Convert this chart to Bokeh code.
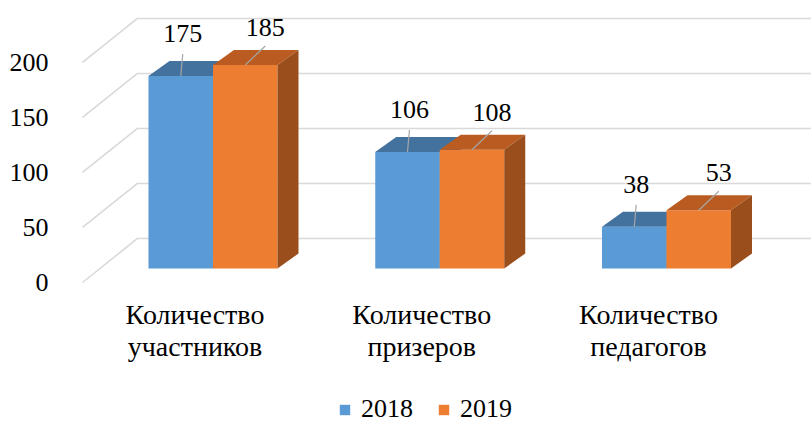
from bokeh.plotting import figure
from bokeh.models import Range1d, FixedTicker, Legend, LegendItem, ColumnDataSource
from bokeh.core.properties import value
from bokeh.embed import file_html
from bokeh.resources import INLINE

# ---------------- data ----------------
categories = ["Количество участников", "Количество призеров", "Количество педагогов"]
series_names = ["2018", "2019"]
values_2018 = [175, 106, 38]
values_2019 = [185, 108, 53]
y_ticks = [0, 50, 100, 150, 200]

# ---------------- style / geometry ----------------
W, H = 811, 423
FONT = "Liberation Serif"
FS_NUM = "26px"
FS_CAT = "28px"
PX_PER_X = 226.75   # pixels per category step
PX_PER_Y = 1.1      # pixels per value unit
X_START, X_END = -0.5843, 2.6395
Y_START, Y_END = -128.18, 256.36


def px_x(px):
    return px / PX_PER_X


def px_y(px):
    return px / PX_PER_Y


BAR_W = px_x(64.5)
DEPTH_X, DEPTH_Y = px_x(21), px_y(15)
BAR_BASE = px_y(14)
WALL_X0 = px_x(-75.5)
SIDE_X0 = px_x(-130.5)
WALL_DY = px_y(44)
CAT_DX = px_x(-18)
CAT_Y1, CAT_Y2 = px_y(-32), px_y(-64)
GRID_COLOR = "#D9D9D9"
COLORS = {
    "2018": {"front": "#5B9BD5", "top": "#43729F", "side": "#3E6A94", "lab_dx": 2, "lab_dy": 42, "lead_dy": 22, "side_sign": -1},
    "2019": {"front": "#ED7D31", "top": "#BA5C21", "side": "#9A4E1C", "lab_dx": 20, "lab_dy": 37.5, "lead_dy": 19, "side_sign": 1},
}

p = figure(width=W, height=H, output_backend="svg", toolbar_location=None,
           x_axis_type=None, x_range=Range1d(X_START, X_END),
           y_range=Range1d(Y_START, Y_END),
           min_border_left=80, min_border_right=0, min_border_top=0, min_border_bottom=0)
p.outline_line_color = None
p.ygrid.visible = False
p.background_fill_color = "white"

# y axis
ax = p.yaxis[0]
ax.ticker = FixedTicker(ticks=y_ticks)
ax.axis_line_color = None
ax.major_tick_line_color = None
ax.minor_tick_line_color = None
ax.major_label_text_font = FONT
ax.major_label_text_font_size = FS_NUM
ax.major_label_text_color = "black"
ax.major_label_standoff = 26

# walls: side-wall diagonals + back-wall gridlines
gx = [[SIDE_X0, WALL_X0, X_END] for v in y_ticks]
gy = [[v, v + WALL_DY, v + WALL_DY] for v in y_ticks]
p.multi_line(gx, gy, line_color=GRID_COLOR, line_width=1.6)

# bars
legend_items = []
for name, vals in zip(series_names, [values_2018, values_2019]):
    st = COLORS[name]
    centers = list(range(len(categories)))
    if st["side_sign"] < 0:
        x0 = [c - BAR_W for c in centers]
        x1 = [c for c in centers]
    else:
        x0 = [c for c in centers]
        x1 = [c + BAR_W for c in centers]
    bottom = [BAR_BASE for _ in vals]
    top = [BAR_BASE + v for v in vals]
    front = p.quad(left=x0, right=x1, bottom=bottom, top=top,
                   fill_color=st["front"], line_color=None)
    legend_items.append(LegendItem(label=name, renderers=[front]))
    top_xs = [[a, b, b + DEPTH_X, a + DEPTH_X] for a, b in zip(x0, x1)]
    top_ys = [[t, t, t + DEPTH_Y, t + DEPTH_Y] for t in top]
    p.patches(top_xs, top_ys, fill_color=st["top"], line_color=None)
    side_xs = [[b, b + DEPTH_X, b + DEPTH_X, b] for b in x1]
    side_ys = [[bb, bb + DEPTH_Y, t + DEPTH_Y, t] for bb, t in zip(bottom, top)]
    p.patches(side_xs, side_ys, fill_color=st["side"], line_color=None)

# data labels with leader lines
for name, vals in zip(series_names, [values_2018, values_2019]):
    st = COLORS[name]
    bar_c = [i + st["side_sign"] * BAR_W / 2 for i in range(len(categories))]
    lab_x = [c + px_x(st["lab_dx"]) for c in bar_c]
    lab_y = [BAR_BASE + v + px_y(st["lab_dy"]) for v in vals]
    src = ColumnDataSource(dict(x=lab_x, y=lab_y, t=[str(v) for v in vals]))
    lead_xs = [[lx, c] for lx, c in zip(lab_x, bar_c)]
    lead_ys = [[BAR_BASE + v + px_y(st["lead_dy"]), BAR_BASE + v] for v in vals]
    p.multi_line(lead_xs, lead_ys, line_color="#A6A6A6", line_width=1.2)
    p.text(x="x", y="y", text="t", source=src, text_align="center",
           text_baseline="middle", text_font=value(FONT),
           text_font_size=FS_NUM, text_color="black")

# category labels (two lines)
line1 = [c.split(" ", 1)[0] for c in categories]
line2 = [c.split(" ", 1)[1] for c in categories]
cx = [i + CAT_DX for i in range(len(categories))]
p.text(x=cx, y=[CAT_Y1] * len(cx), text=line1, text_align="center",
       text_baseline="middle", text_font=value(FONT), text_font_size=FS_CAT,
       text_color="black")
p.text(x=cx, y=[CAT_Y2] * len(cx), text=line2, text_align="center",
       text_baseline="middle", text_font=value(FONT), text_font_size=FS_CAT,
       text_color="black")

legend = Legend(items=legend_items, orientation="horizontal", location=(258, -1),
                glyph_width=13, glyph_height=13, label_standoff=10, spacing=24,
                padding=0, margin=0, border_line_alpha=0, background_fill_alpha=0,
                label_text_font=FONT, label_text_font_size=FS_NUM,
                label_text_color="black")
p.add_layout(legend, "center")

open("out.html", "w").write(file_html(p, INLINE))
